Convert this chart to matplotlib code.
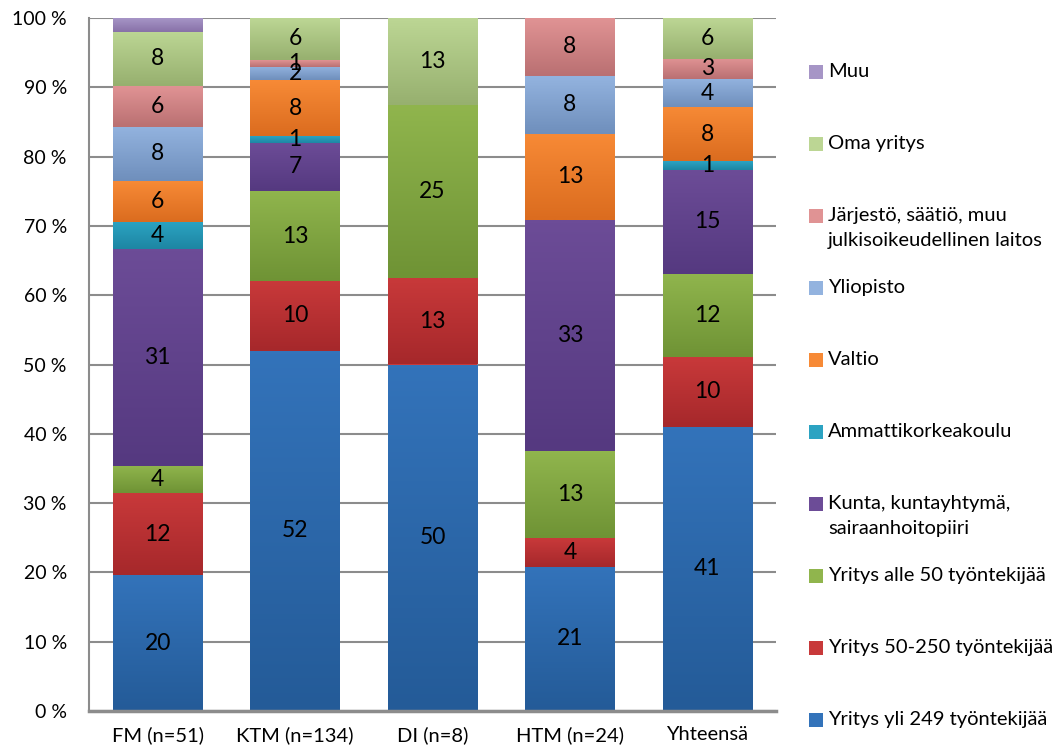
import numpy as np
import matplotlib
matplotlib.use("Agg")
import matplotlib.pyplot as plt
from matplotlib.colors import LinearSegmentedColormap
from matplotlib.patches import Rectangle

plt.rcParams['font.family'] = ['Lato', 'DejaVu Sans']

# categories and series (percent of respondents)
categories = ["FM (n=51)", "KTM (n=134)", "DI (n=8)", "HTM (n=24)", "Yhteensä"]
series_names = [
    "Yritys yli 249 työntekijää",
    "Yritys 50-250 työntekijää",
    "Yritys alle 50 työntekijää",
    "Kunta, kuntayhtymä,\nsairaanhoitopiiri",
    "Ammattikorkeakoulu",
    "Valtio",
    "Yliopisto",
    "Järjestö, säätiö, muu\njulkisoikeudellinen laitos",
    "Oma yritys",
    "Muu",
]
yli249 = [19.6, 52.0, 50.0, 20.83, 41.0]
v50_250 = [11.8, 10.0, 12.5, 4.17, 10.1]
alle50 = [3.9, 13.0, 25.0, 12.5, 12.0]
kunta = [31.4, 7.0, 0.0, 33.33, 15.0]
amk = [3.9, 1.0, 0.0, 0.0, 1.2]
valtio = [5.9, 8.0, 0.0, 12.5, 7.8]
yliopisto = [7.8, 2.0, 0.0, 8.33, 4.1]
jarjesto = [5.9, 1.0, 0.0, 8.33, 2.9]
oma = [7.8, 6.0, 12.5, 0.0, 5.9]
muu = [2.0, 0.0, 0.0, 0.0, 0.0]
data = [yli249, v50_250, alle50, kunta, amk, valtio, yliopisto, jarjesto, oma, muu]

# (top colour, bottom colour) for the Excel-like gradient
colors = [
    ("#3373BA", "#245B98"),
    ("#C8393A", "#A6282B"),
    ("#90B54D", "#6F9335"),
    ("#6C4C97", "#553980"),
    ("#2CA3C2", "#1D86A3"),
    ("#F78A36", "#DB6C1F"),
    ("#93B3DF", "#6F8FBC"),
    ("#E09394", "#BA7072"),
    ("#BCD694", "#97B06F"),
    ("#A695C6", "#8871A8"),
]

fig = plt.figure(figsize=(10.63, 7.51), dpi=100)
ax = fig.add_axes([89 / 1063, 40 / 751, 687 / 1063, 693 / 751])

x = np.arange(len(categories))
width = 0.65
bottom = np.zeros(len(categories))
grad = np.linspace(1, 0, 64).reshape(-1, 1)
for vals, (ctop, cbot), name in zip(data, colors, series_names):
    vals = np.array(vals)
    bars = ax.bar(x, vals, width, bottom=bottom, color=ctop, linewidth=0, zorder=2)
    cmap = LinearSegmentedColormap.from_list("g", [cbot, ctop])
    for b, v in zip(bars, vals):
        if v <= 0:
            continue
        x0, y0 = b.get_x(), b.get_y()
        im = ax.imshow(grad, cmap=cmap, aspect="auto", vmin=0, vmax=1,
                       extent=(x0, x0 + b.get_width(), y0, y0 + b.get_height()),
                       zorder=2.5, interpolation="bilinear")
        im.set_clip_path(b)
        if name != "Muu":
            ax.text(b.get_x() + b.get_width() / 2, y0 + v / 2, str(int(v + 0.5)),
                    ha="center", va="center", fontsize=16.5, color="black", zorder=4)
    bottom += vals

ax.set_xlim(-0.5, len(categories) - 0.5)
ax.set_ylim(0, 100)
ax.set_yticks(np.arange(0, 101, 10))
ax.set_yticklabels([f"{t} %" for t in range(0, 101, 10)], fontsize=14)
ax.set_xticks(x)
ax.set_xticklabels(categories, fontsize=14.5)
ax.tick_params(axis="both", length=0)
ax.tick_params(axis="y", pad=16)
ax.tick_params(axis="x", pad=11)
ax.yaxis.grid(True, color="#8c8c8c", linewidth=1.5, zorder=0)
ax.set_axisbelow(True)
for s in ["top", "right"]:
    ax.spines[s].set_visible(False)
ax.spines["left"].set_color("#8c8c8c")
ax.spines["left"].set_linewidth(1.5)
ax.spines["bottom"].set_color("#8c8c8c")
ax.spines["bottom"].set_linewidth(2.5)

# legend drawn by hand, top entry = last series
W, H = 1063, 751
for i, (name, (ctop, cbot)) in enumerate(zip(series_names[::-1], colors[::-1])):
    yc = 72 + i * 72
    fig.patches.append(Rectangle((809 / W, 1 - (yc + 7) / H), 14 / W, 14 / H,
                                 transform=fig.transFigure, facecolor=ctop,
                                 edgecolor="none"))
    fig.text(828 / W, 1 - (yc - 9) / H, name, fontsize=14.5, va="top", ha="left",
             linespacing=1.55)

fig.savefig("out.png", dpi=100)
